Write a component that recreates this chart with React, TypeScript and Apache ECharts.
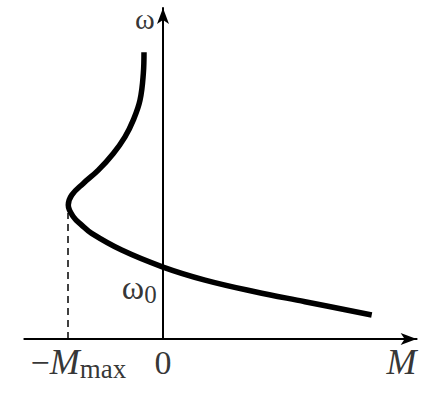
import React, { useEffect, useRef } from "react";
import * as echarts from "echarts";

// Characteristic curve: M (in units of M_max) vs ω (in units of ω0)
const curveM = [-0.2, -0.207, -0.242, -0.313, -0.4, -0.523, -0.681, -0.839, -0.961, -0.997, -0.944, -0.856, -0.751, -0.435, 0, 0.442, 0.968, 1.495, 2.197];
const curveW = [3.986, 3.69, 3.319, 3.042, 2.81, 2.579, 2.347, 2.162, 2.0, 1.861, 1.699, 1.583, 1.468, 1.236, 1.0, 0.819, 0.657, 0.518, 0.333];

// Dashed drop line at -M_max
const dashM = [-1, -1];
const dashW = [0, 1.75];

// Text labels: [M, ω, text]
const labelM = [-0.89, 0, 2.51, -0.19, -0.25];
const labelW = [-0.32, -0.32, -0.32, 4.46, 0.72];
const labelText = ["−{i|M}{s|max}", "0", "{i|M}", "ω", "ω{s0|0}"];

export default function App() {
  const ref = useRef<HTMLDivElement>(null);
  useEffect(() => {
    if (!ref.current) return;
    const chart = echarts.init(ref.current, null, { renderer: "svg" });
    const axisCommon = {
      type: "value" as const,
      axisTick: { show: false },
      axisLabel: { show: false },
      splitLine: { show: false },
    };
    chart.setOption({
      animation: false,
      backgroundColor: "#fff",
      grid: { left: 24.3, right: 7.35, top: 8, bottom: 56, containLabel: false },
      xAxis: {
        ...axisCommon,
        min: -1.46,
        max: 2.67,
        axisLine: {
          onZero: true,
          symbol: ["none", "arrow"],
          symbolSize: [9, 16],
          lineStyle: { color: "#000", width: 2 },
        },
      },
      yAxis: {
        ...axisCommon,
        min: 0,
        max: 4.6,
        axisLine: {
          onZero: true,
          symbol: ["none", "arrow"],
          symbolSize: [9, 16],
          lineStyle: { color: "#000", width: 2 },
        },
      },
      series: [
        {
          type: "line",
          data: curveM.map((m, i) => [m, curveW[i]]),
          smooth: 0.4,
          showSymbol: false,
          lineStyle: { color: "#000", width: 5.5 },
          clip: false,
        },
        {
          type: "line",
          data: dashM.map((m, i) => [m, dashW[i]]),
          showSymbol: false,
          lineStyle: { color: "#000", width: 1.5, type: [7, 5] },
        },
        {
          type: "scatter",
          symbolSize: 1,
          itemStyle: { color: "transparent" },
          clip: false,
          data: labelM.map((m, i) => ({
            value: [m, labelW[i]],
            name: labelText[i],
            label: labelText[i] === "ω" ? { fontSize: 30, lineHeight: 30 } : undefined,
          })),
          label: {
            show: true,
            position: "inside",
            formatter: (p: any) => p.name,
            color: "#000",
            fontFamily: "Liberation Serif",
            fontSize: 34,
            rich: {
              i: { fontStyle: "italic", fontFamily: "Liberation Serif", fontSize: 36, color: "#000" },
              s: { fontFamily: "Liberation Serif", fontSize: 27, color: "#000", padding: [14, 0, 0, 0] },
              s0: { fontFamily: "Liberation Serif", fontSize: 25, color: "#000", padding: [14, 0, 0, 0] },
            },
          },
        },
      ],
    });
    return () => chart.dispose();
  }, []);
  return <div ref={ref} style={{ width: 424, height: 395, position: "absolute", left: 0, top: 0 }} />;
}
